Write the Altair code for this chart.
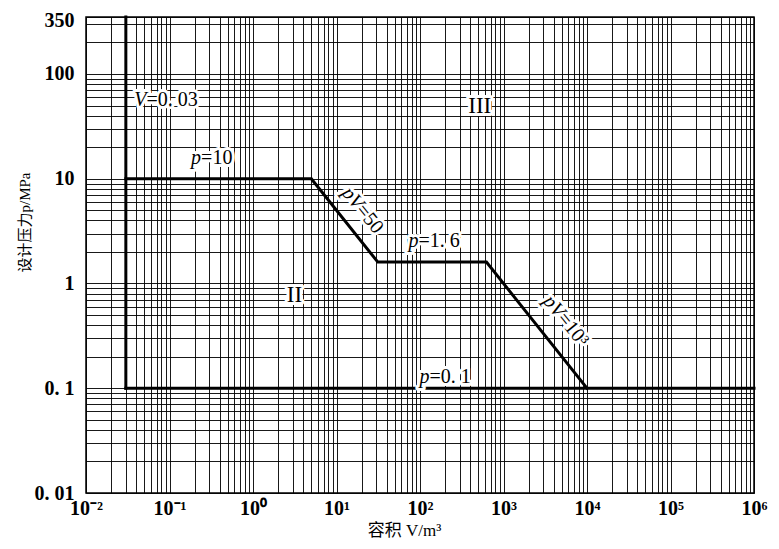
import altair as alt
import pandas as pd

# ---- boundary lines (V in m^3, p in MPa) ----
line_seg = ["V=0.03", "V=0.03", "p=0.1", "p=0.1", "upper", "upper", "upper", "upper", "upper"]
line_V = [0.03, 0.03, 0.03, 1e6, 0.03, 5, 31.25, 625, 10000]
line_p = [0.1, 350, 0.1, 0.1, 10, 10, 1.6, 1.6, 0.1]
line_ord = [0, 1, 0, 1, 0, 1, 2, 3, 4]

# ---- annotations: italic variable part + upright remainder, anchored at the "=" ----
lab_var = ["V", "p", "pV", "p", "pV", "p"]
lab_rest = ["=0. 03", "=10", "=50", "=1. 6", "=10³", "=0. 1"]
lab_V = [0.0531, 0.239, 19.0, 96.2, 4900, 130]
lab_p = [56, 15.9, 5.4, 2.57, 0.50, 0.1285]
lab_angle = [0, 0, 51, 0, 51, 0]

# ---- region labels ----
reg_text = ["II", "III"]
reg_V = [3.14, 520]
reg_p = [0.78, 50]

# ---- axes ----
x_grid = [m * 10.0 ** e for e in range(-2, 6) for m in range(1, 10)] + [1000000.0]
x_major = [0.01, 0.1, 1.0, 10.0, 100.0, 1000.0, 10000.0, 100000.0, 1000000.0]
x_major_labels = ["10⁻²", "10⁻¹", "10⁰", "10¹", "10²", "10³", "10⁴", "10⁵", "10⁶"]
y_grid = [m * 10.0 ** e for e in range(-2, 2) for m in range(1, 10)] + [100.0, 200.0, 300.0, 350.0]
y_major = [0.01, 0.1, 1.0, 10.0, 100.0, 350.0]
y_major_labels = ["0. 01", "0. 1", "1", "10", "100", "350"]


def label_expr(vals, labs):
    s = "''"
    for v, l in reversed(list(zip(vals, labs))):
        s = f"(abs(datum.value - {v!r}) < {v!r} * 1e-6 ? '{l}' : {s})"
    return s


SERIF = "Liberation Serif"
CJK = "Liberation Serif, Noto Sans CJK SC"

lines_df = pd.DataFrame({"seg": line_seg, "V": line_V, "p": line_p, "ord": line_ord})
lab_df = pd.DataFrame({"var": lab_var, "rest": lab_rest, "V": lab_V, "p": lab_p, "ang": lab_angle})
reg_df = pd.DataFrame({"t": reg_text, "V": reg_V, "p": reg_p})

xs = alt.Scale(type="log", domain=[0.01, 1e6], nice=False)
ys = alt.Scale(type="log", domain=[0.01, 350], nice=False)

x_axis = alt.Axis(
    values=x_grid, labelExpr=label_expr(x_major, x_major_labels),
    grid=True, ticks=False, domain=False, labelOverlap=False, labelFlush=False,
    labelFont=SERIF, labelFontSize=20, labelFontWeight="bold", labelColor="black",
    labelPadding=5, gridColor="#000000", gridWidth=1, gridOpacity=0.9,
    title="容积 V/m³", titleFont=CJK, titleFontSize=17, titleFontWeight="normal",
    titleColor="black", titleX=318, titleY=37, titleBaseline="middle", titleAlign="center",
)
y_axis = alt.Axis(
    values=y_grid, labelExpr=label_expr(y_major, y_major_labels),
    grid=True, ticks=False, domain=False, labelOverlap=False, labelFlush=False,
    labelFont=SERIF, labelFontSize=20, labelFontWeight="bold", labelColor="black",
    labelPadding=12, gridColor="#000000", gridWidth=1, gridOpacity=0.9,
    labelOffset={"condition": {"test": "datum.value > 300", "value": 3}, "value": 0},
    title="设计压力p/MPa", titleFont=CJK, titleFontSize=15, titleFontWeight="normal",
    titleColor="black", titleX=-62, titleY=205, titleBaseline="middle", titleAlign="center",
    titleAngle=270,
)

base_x = alt.X("V:Q", scale=xs, axis=x_axis)
base_y = alt.Y("p:Q", scale=ys, axis=y_axis)

lines = alt.Chart(lines_df).mark_line(color="black", strokeWidth=3, strokeCap="square").encode(
    x=base_x, y=base_y, detail="seg:N", order="ord:Q"
)


def txt(field, align, style, color, halo):
    kw = dict(font=SERIF, fontSize=20, align=align, baseline="middle", fontStyle=style, color=color)
    if halo:
        kw.update(stroke="white", strokeWidth=6, strokeJoin="round")
    return alt.Chart(lab_df).mark_text(**kw).encode(
        x=alt.X("V:Q", scale=xs), y=alt.Y("p:Q", scale=ys),
        text=f"{field}:N", angle=alt.Angle("ang:Q", scale=None),
    )


def reg(color, halo):
    kw = dict(font=SERIF, fontSize=23, align="center", baseline="middle", color=color)
    if halo:
        kw.update(stroke="white", strokeWidth=6, strokeJoin="round")
    return alt.Chart(reg_df).mark_text(**kw).encode(
        x=alt.X("V:Q", scale=xs), y=alt.Y("p:Q", scale=ys), text="t:N"
    )


chart = alt.layer(
    lines,
    txt("var", "right", "italic", "white", True),
    txt("rest", "left", "normal", "white", True),
    reg("white", True),
    txt("var", "right", "italic", "black", False),
    txt("rest", "left", "normal", "black", False),
    reg("black", False),
).properties(
    width=668, height=476,
    autosize=alt.AutoSizeParams(type="none"),
    padding={"left": 78, "top": 9, "right": 17, "bottom": 48},
    background="white",
).configure_view(stroke="black", strokeWidth=1.5)

chart.save("out.html", embed_options={"renderer": "svg", "actions": False})
